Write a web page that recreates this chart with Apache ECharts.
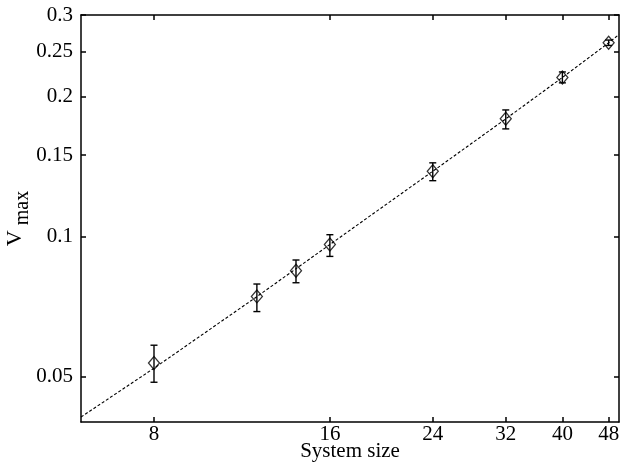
<!DOCTYPE html>
<html>
<head>
<meta charset="utf-8">
<script src="https://cdn.jsdelivr.net/npm/echarts@6/dist/echarts.min.js"></script>
<style>html,body{margin:0;padding:0;background:#fff;}#c{width:621px;height:466px;}</style>
</head>
<body>
<div id="c"></div>
<script>
// Data
const sizes = [8, 12, 14, 16, 24, 32, 40, 48];
const vmax = [0.0536, 0.0745, 0.0846, 0.0963, 0.1384, 0.1794, 0.2202, 0.2614];
const errLow = [0.0487, 0.0691, 0.0797, 0.0908, 0.1321, 0.1707, 0.2144, 0.2580];
const errHigh = [0.0585, 0.0792, 0.0892, 0.1011, 0.1443, 0.1875, 0.2263, 0.2650];
const fitSizes = [6, 8, 12, 16, 24, 32, 40, 48, 50];
const fitV = [0.0410, 0.0522, 0.0744, 0.0963, 0.1384, 0.1794, 0.2202, 0.2614, 0.2723];
const xTicks = [8, 16, 24, 32, 40, 48];
const yTicks = [0.05, 0.1, 0.15, 0.2, 0.25, 0.3];

const FONT = 'Liberation Serif';
const chart = echarts.init(document.getElementById('c'), null, {renderer: 'canvas'});
const fmt = v => String(+(+v).toPrecision(3));
const axisLine = {show: true, onZero: false, lineStyle: {color: '#000', width: 1.5}};

function xAx(pos, labels) {
  return {
    type: 'log', logBase: 2, min: 6, max: 50, position: pos,
    axisLine: axisLine,
    axisTick: {show: true, inside: true, length: 5, customValues: xTicks, lineStyle: {color: '#000', width: 1.5}},
    axisLabel: {show: labels, customValues: xTicks, formatter: fmt, color: '#000', fontFamily: FONT, fontSize: 21, margin: 2},
    splitLine: {show: false}, minorTick: {show: false},
    name: labels ? 'System size' : '', nameLocation: 'middle', nameGap: 19, nameMoveOverlap: false,
    nameTextStyle: {color: '#000', fontFamily: FONT, fontSize: 21, verticalAlign: 'top'}
  };
}
function yAx(pos, labels) {
  return {
    type: 'log', logBase: 10, min: 0.04, max: 0.3, position: pos,
    axisLine: axisLine,
    axisTick: {show: true, inside: true, length: 5, customValues: yTicks, lineStyle: {color: '#000', width: 1.5}},
    axisLabel: {show: labels, customValues: yTicks, formatter: fmt, color: '#000', fontFamily: FONT, fontSize: 21, margin: 8},
    splitLine: {show: false}, minorTick: {show: false},
    name: labels ? '{v|V}{s| max}' : '', nameLocation: 'middle', nameGap: 48, nameRotate: 90, nameMoveOverlap: false,
    nameTextStyle: {
      color: '#000', fontFamily: FONT, fontSize: 21,
      rich: {
        v: {fontFamily: FONT, fontSize: 22, color: '#000', lineHeight: 22, verticalAlign: 'top'},
        s: {fontFamily: FONT, fontSize: 20, color: '#000', lineHeight: 29, verticalAlign: 'bottom'}
      }
    }
  };
}

chart.setOption({
  animation: false,
  backgroundColor: '#fff',
  grid: {left: 81, right: 2, top: 15, bottom: 44, containLabel: false, outerBoundsMode: 'none'},
  xAxis: [xAx('bottom', true), xAx('top', false)],
  yAxis: [yAx('left', true), yAx('right', false)],
  series: [
    {
      type: 'line', xAxisIndex: 0, yAxisIndex: 0,
      data: fitSizes.map((x, i) => [x, fitV[i]]),
      showSymbol: false, symbol: 'none', smooth: false,
      lineStyle: {color: '#000', width: 1.1, type: [3, 2]},
      z: 2
    },
    {
      type: 'custom', xAxisIndex: 0, yAxisIndex: 0,
      data: sizes.map((x, i) => [x, errLow[i], errHigh[i]]),
      renderItem: function (params, api) {
        const lo = api.coord([api.value(0), api.value(1)]);
        const hi = api.coord([api.value(0), api.value(2)]);
        const w = 3.5;
        const st = {stroke: '#000', lineWidth: 1.4};
        return {
          type: 'group',
          children: [
            {type: 'line', shape: {x1: lo[0], y1: lo[1], x2: hi[0], y2: hi[1]}, style: st},
            {type: 'line', shape: {x1: lo[0] - w, y1: lo[1], x2: lo[0] + w, y2: lo[1]}, style: st},
            {type: 'line', shape: {x1: hi[0] - w, y1: hi[1], x2: hi[0] + w, y2: hi[1]}, style: st}
          ]
        };
      },
      z: 3
    },
    {
      type: 'scatter', xAxisIndex: 0, yAxisIndex: 0,
      data: sizes.map((x, i) => [x, vmax[i]]),
      symbol: 'diamond', symbolSize: [11, 13],
      itemStyle: {color: 'rgba(255,255,255,0)', borderColor: '#000', borderWidth: 1.3},
      z: 4
    }
  ]
});
</script>
</body>
</html>
